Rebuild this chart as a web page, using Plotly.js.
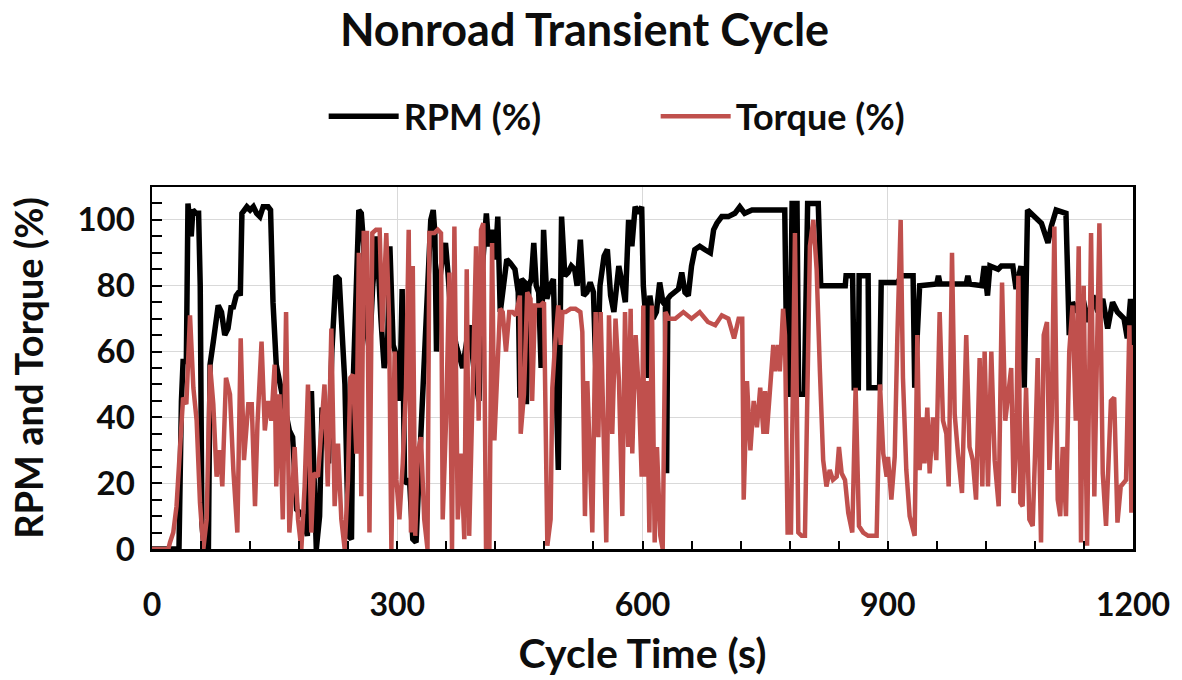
<!DOCTYPE html>
<html>
<head>
<meta charset="utf-8">
<script src="https://cdn.plot.ly/plotly-3.0.1.min.js"></script>
<style>html,body{margin:0;padding:0;background:#fff}#chart{width:1182px;height:680px}</style>
</head>
<body>
<div id="chart"></div>
<script>
const chartTitle = "Nonroad Transient Cycle";
const seriesNames = ["RPM (%)", "Torque (%)"];
const xAxisTitle = "Cycle Time (s)";
const yAxisTitle = "RPM and Torque (%)";
const xTickValues = [0, 300, 600, 900, 1200];
const yTickValues = [0, 20, 40, 60, 80, 100];

const rpmTime = [0,33,36,38,42,44,48,50,54,57,59,61,63,66,69,71,75,77,81,85,89,93,97,99,103,106,108,110,116,120,124,128,132,136,142,145,148,152,160,168,172,177,185,190,195,198,201,205,208,212,216,220,225,229,233,236,240,244,246,250,253,256,259,262,266,270,275,280,284,288,291,295,300,303,306,309,315,319,323,328,333,337,341,344,346,348,350,355,359,362,366,372,380,388,395,400,404,409,412,416,420,423,426,430,434,438,441,444,448,450,452,456,458,461,464,467,470,473,476,479,483,487,491,494,497,501,505,509,513,517,520,524,528,532,536,540,544,548,553,557,561,565,571,575,579,583,587,591,595,599,601,604,607,609,613,617,621,625,628,629.5,631,634,638,644,648,652,656,660,664,670,676,683,687,691,697,705,713,719,725,734,742,752,774,777,780,783,789,791,798,802,815,818,848,849,857,859,864,865,876,877,890,892,912,917,931,933,936,939,960,962,964,996,998,1000,1015,1018,1022,1025,1035,1039,1053,1057,1063,1067,1071,1075,1082,1088,1092,1096,1100,1106,1118,1122,1126,1132,1138,1145,1151,1157,1163,1169,1175,1181,1189,1193,1197,1199,1200];
const rpmValue = [0,0,45,57,57,105,95,103,102,102,80,8,2,0,0,56,63,66,74,72,65,67,74,73,77,78,77,102,104,103,104,102,101,104,104,103,75,56,45,36,34,12,10,4,48,20,0,10,43,40,26,60,83,82,60,50,4,3,50,80,103,102,92,68,60,80,95,70,55,60,92,62,58,45,79,20,21,3,2,30,60,85,100,103,96,60,78,88,93,84,70,62,55,68,52,45,85,102,92,97,88,101,72,80,88,87,86,85,78,46,82,81,44,80,82,93,80,78,55,97,76,80,82,56,24,101,83,84,86,85,80,94,77,78,81,78,46,80,89,91,77,72,86,81,75,100,92,104,102,104,80,70,52,77,70,72,81,75,74,23,76,77,78,79,84,78,77,86,91,92,91,90,97,99,101,101,102,104,102,103,103,103,103,47,47,105,105,47,47,105,105,80,80,83,83,49,49,83,83,49,49,81,81,83,83,49,65,80,80.5,83,80.5,80.5,83,80.5,80,86,77,86,85,86,86,79,86,49,103,102,100,99,96,93,98,103,102,65,75,72,77,69,77,72,76,67,75,72,70,64,76,70,13];

const torqueTime = [0,20,22,26,30,34,38,42,46.5,50.6,54.6,58.7,62.8,66.9,71,75,79,83,86,90.5,95.4,99.5,104.4,108.5,112.5,117.8,122,126,129,134,138,142,146,150,152,156,160,164,168,172,174.5,178.6,182.7,186.7,190.8,194.9,197.7,203,207,211,215,219.4,223.4,227.5,231.6,235.7,239.7,242.6,245.9,250,253,256,259,263,266,269.5,274,278.5,281.7,286.6,290,292.8,296.8,299,302.6,306.7,310.7,314,316.8,319,322,325,329,333,337,339.3,345.4,349.5,353.5,355.6,359.7,363.7,367,369.9,374,378,382,385,388,392,396.4,399.6,402.5,405.3,408.6,412.7,416,418.8,422.9,425.7,429,433,437,441,445,450,451,455,459,463,465,468.5,471.3,475.4,479.5,483.6,487.6,489.7,493,497,500,502,506,512,518,524,526.4,529.6,532.5,536.6,538.6,542.7,546,548.8,552.9,555.7,559,563,567,571.2,575.3,578.6,582.6,585.5,587.5,591.6,595.7,599,601,602,605.5,608.4,611.6,614.9,617.7,621.8,624.7,628,632,640,650,660,670,680,689,697,705,712,717.6,722,723.8,727.8,732,736,740,744,748,750,752,756,760,762,766,768,772,774.3,777.5,781.6,786.5,790.6,794.7,798.7,804.8,809,813,817,821,825,829,833,837.5,840.3,843.6,847.7,851.7,856.6,860.7,864.8,870,876,882,886.4,890.5,894.5,898.6,900.3,904.4,908.5,911.7,915.8,918.6,922.7,926.8,932.9,936.2,939,943,945,948.4,951.3,955.3,959.4,963.5,967.6,971.7,974.5,978.6,981.9,985.9,990.8,996,1000,1004,1008,1012.4,1015.7,1018.5,1022.6,1026.7,1030.8,1035.7,1039.8,1043.8,1048,1051,1054,1057,1059.8,1062.2,1065,1069.2,1073.2,1077.3,1080.2,1083.4,1087.5,1090.8,1094.8,1097.7,1100.5,1103.8,1107.9,1111,1114,1118,1122,1126,1130,1133.6,1136.4,1139.7,1143.8,1148.7,1152.7,1158.9,1163,1167,1173,1177,1181,1185,1191.5,1195.6,1198,1200];
const torqueValue = [0,0,2,5,13,29,46,44,71,49,39,14,0,9,56,44,22,30,19,52,47,24,5,64,27,44,44,13,38,63,36,45,39,56,19,47,9,72,5,19,31,9,0,19,50,5,23,22,34,50,19,67,13,32,9,0,21,52,53,29,90,16,96,96,5,96,97,97,66,96,70,0,60,21,9,26,49,97,5,86,4,29,34,9,0,96,96,97,96,9,39,84,0,98,9,29,3,85,4,47,92,39,97,99,0,0,93,33,53,73,72,60,72,72,71,77,35,47,78,76,45,74,74,74,75,1,9,49,62,74,62,72,72,73,73,72,66,10,51,15,5,72,34,72,35,2,71,35,70,51,10,72,31,73,29,65,47,22,74,22,51,5,74,2,31,4,0,72,70,70,72,70,72,69,68,71,70,64,70,70,15,51,30,45,37,49,35,48,35,49,62,54,62,54,73,65,5,5,96,5,4,4,92,100,85,54,27,19,24,21,22,31,23,21,11,5,49,7,5,4,4,4,50,29,22,28,15,28,64,100,52,24,10,4,65,24,40,26,43,23,40,27,72,39,35,19,90,41,29,17,65,31,27,15,58,19,60,19,60,27,13,81,39,47,55,17,31,83,14,13,49,9,7,29,58,2,65,69,24,39,98,15,10,31,10,60,74,39,92,2,80,1,96,16,99,23,7,45,46,8,19,21,68,11,62];

const fontFamily = "Lato, 'Open Sans', Arial, sans-serif";
const textColor = "#0d0d0d";

const traces = [
  {x: rpmTime, y: rpmValue, name: seriesNames[0], type: "scatter", mode: "lines",
   line: {color: "#000000", width: 5.5}},
  {x: torqueTime, y: torqueValue, name: seriesNames[1], type: "scatter", mode: "lines",
   line: {color: "#C0504D", width: 4.5}}
];

const layout = {
  width: 1182, height: 680,
  margin: {l: 152, r: 49, t: 187, b: 131},
  paper_bgcolor: "#ffffff", plot_bgcolor: "#ffffff",
  font: {family: fontFamily, color: textColor, weight: "bold"},
  title: {text: chartTitle, x: 0.4945, xref: "container", xanchor: "center",
          y: 0.955, yref: "container", yanchor: "middle",
          font: {size: 45, family: fontFamily, color: textColor, weight: "bold"}},
  showlegend: true,
  legend: {orientation: "h", x: 0.175, xanchor: "left", y: 1.195, yanchor: "middle",
           font: {size: 36, family: fontFamily, color: textColor, weight: "bold"},
           entrywidth: 247, entrywidthmode: "pixels", itemwidth: 70, bgcolor: "rgba(0,0,0,0)"},
  xaxis: {range: [0, 1200], tickvals: xTickValues, ticktext: xTickValues.map(String),
          showgrid: true, gridcolor: "#d9d9d9", gridwidth: 1,
          ticks: "inside", ticklen: 8, tickwidth: 2, tickcolor: "#000",
          minor: {dtick: 60, tick0: 0, ticks: "inside", ticklen: 8, tickwidth: 2, tickcolor: "#000", showgrid: false},
          showline: true, linecolor: "#000", linewidth: 2.5, mirror: true, zeroline: false,
          ticklabelstandoff: 26,
          tickfont: {size: 32, family: fontFamily, color: textColor, weight: "bold"},
          title: {text: xAxisTitle, standoff: 18, font: {size: 41, family: fontFamily, color: textColor, weight: "bold"}}},
  yaxis: {range: [0, 110], tickvals: yTickValues, ticktext: yTickValues.map(String),
          showgrid: true, gridcolor: "#d9d9d9", gridwidth: 1,
          ticks: "inside", ticklen: 10, tickwidth: 2, tickcolor: "#000",
          minor: {dtick: 5, tick0: 0, ticks: "inside", ticklen: 10, tickwidth: 2, tickcolor: "#000", showgrid: false},
          showline: true, linecolor: "#000", linewidth: 2.5, mirror: true, zeroline: false,
          ticklabelstandoff: 8,
          tickfont: {size: 33, family: fontFamily, color: textColor, weight: "bold"},
          title: {text: yAxisTitle, standoff: 22, font: {size: 38, family: fontFamily, color: textColor, weight: "bold"}}}
};

Plotly.newPlot("chart", traces, layout, {displayModeBar: false, staticPlot: true});
</script>
</body>
</html>
